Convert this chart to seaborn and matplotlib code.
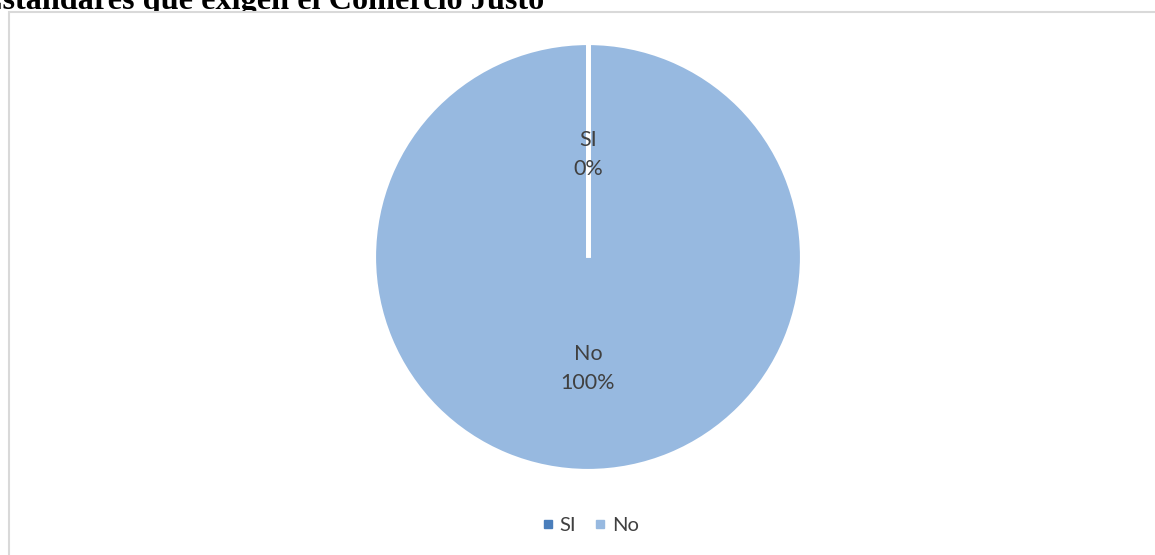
import matplotlib
matplotlib.use("Agg")
import numpy as np
import matplotlib.pyplot as plt
from matplotlib.lines import Line2D
from matplotlib.patches import Rectangle
import seaborn as sns

categories = ["SI", "No"]
values = [0, 100]
colors = ["#4A7EBB", "#97B9E0"]
title = "Estandares que exigen el Comercio Justo"

sns.set_theme(style="white")
plt.rcParams["font.family"] = ["Lato", "DejaVu Sans"]

W, H = 1155, 555
fig = plt.figure(figsize=(W / 100, H / 100), dpi=100)
fig.patch.set_facecolor("white")

# heading, partly cut at the top and covered by the chart area below
fig.text(-19 / W, 1 - 9 / H, title, family="Liberation Serif", weight="bold",
         fontsize=23.2, color="black", ha="left", va="baseline", zorder=0)

# chart area (white, framed) drawn over the heading
fig.add_artist(Rectangle((9 / W, -0.05), (1160 - 9) / W, 1.05 - 12 / H,
                         transform=fig.transFigure, facecolor="white",
                         edgecolor="#D9D9D9", linewidth=1.5, zorder=1))

cx, cy, r = 588, 257, 214
ax = fig.add_axes([(cx - r) / W, 1 - (cy + r) / H, 2 * r / W, 2 * r / H])
ax.set_zorder(2)
total = sum(values)
labels = [f"{c}\n{v / total * 100:.0f}%" for c, v in zip(categories, values)]
wedges, texts = ax.pie(values, colors=colors, startangle=90, counterclock=False,
                       labels=labels, labeldistance=0.5,
                       wedgeprops=dict(edgecolor="white", linewidth=3),
                       textprops=dict(fontsize=15.5, color="#404040",
                                      linespacing=1.55))
for t in texts:
    t.set_ha("center")
    t.set_va("center")
    t.set_zorder(5)
    x, y = t.get_position()
    t.set_position((x, y - 0.02))

# slice borders: white separators along each wedge boundary
for w in wedges:
    for ang in (w.theta1, w.theta2):
        a = np.deg2rad(ang)
        ax.plot([0, np.cos(a)], [0, np.sin(a)], color="white", linewidth=3.5,
                solid_capstyle="butt", zorder=3)

ax.set_xlim(-1, 1)
ax.set_ylim(-1, 1)
ax.set_aspect("equal")
ax.axis("off")

handles = [Line2D([], [], marker="s", linestyle="none", markersize=6,
                  markerfacecolor=c, markeredgecolor=c) for c in colors]
leg = fig.legend(handles, categories, loc="center",
                 bbox_to_anchor=(590 / W, 1 - 525 / H),
                 ncol=2, frameon=False, fontsize=14.5, handletextpad=0.25,
                 columnspacing=0.85, handlelength=0.7, labelcolor="#404040")
leg.set_zorder(3)

fig.savefig("out.png", dpi=100)
